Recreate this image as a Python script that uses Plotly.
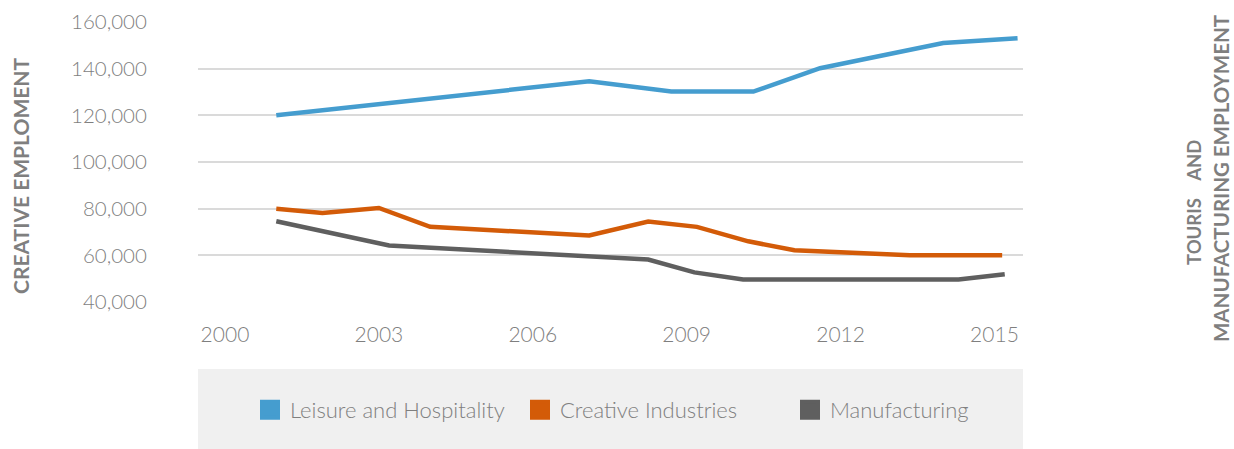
import plotly.graph_objects as go

# ---- data ----
leisure_x = [2001.0, 2007.1, 2008.7, 2010.3, 2011.6, 2014.0, 2015.45]
leisure_y = [120000, 134600, 130200, 130200, 140200, 151000, 153000]

creative_x = [2001.0, 2001.9, 2003.0, 2004.0, 2007.1, 2008.25, 2009.2, 2010.2, 2011.1, 2013.35, 2015.15]
creative_y = [80000, 78200, 80300, 72200, 68500, 74500, 72200, 66000, 62200, 60000, 60000]

manuf_x = [2001.0, 2003.2, 2008.25, 2009.15, 2010.1, 2014.3, 2015.2]
manuf_y = [74600, 64200, 58200, 52700, 49600, 49600, 51900]

series_names = ["Leisure and Hospitality", "Creative Industries", "Manufacturing"]
series_colors = ["#459dcf", "#d35b08", "#5f5f5f"]

x_ticks = [2000, 2003, 2006, 2009, 2012, 2015]
y_ticks = [40000, 60000, 80000, 100000, 120000, 140000, 160000]

left_title = "CREATIVE EMPLOMENT"
right_title_1 = "TOURIS\u00a0\u00a0\u00a0\u00a0AND"
right_title_2 = "MANUFACTURING EMPLOYMENT"

FONT = "Lato"
TXT = "#7f7f7f"

fig = go.Figure()
for xs, ys, name, col in [
    (leisure_x, leisure_y, series_names[0], series_colors[0]),
    (creative_x, creative_y, series_names[1], series_colors[1]),
    (manuf_x, manuf_y, series_names[2], series_colors[2]),
]:
    fig.add_trace(go.Scatter(x=xs, y=ys, mode="lines", name=name,
                             line=dict(color=col, width=4.5),
                             showlegend=False, hoverinfo="skip"))
# legend-only square swatches
for name, col in zip(series_names, series_colors):
    fig.add_trace(go.Scatter(x=[None], y=[None], mode="markers", name=name,
                             marker=dict(symbol="square", size=16, color=col,
                                         line=dict(color=col, width=4)),
                             showlegend=True))

W, H = 1234, 449
L, R, T, B = 198, 1023, 22, 302
pw, ph = R - L, B - T

def px(x):
    return (x - L) / pw

def py(y):
    return (B - y) / ph

fig.update_layout(
    width=W, height=H,
    margin=dict(l=L, r=W - R, t=T, b=H - B, pad=0, autoexpand=False),
    paper_bgcolor="white", plot_bgcolor="white",
    font=dict(family=FONT, color=TXT),
    xaxis=dict(range=[1999.474, 2015.556], tickvals=x_ticks,
               ticktext=[str(v) for v in x_ticks], automargin=False,
               showgrid=False, zeroline=False, showline=False,
               ticks="outside", ticklen=14, tickcolor="rgba(0,0,0,0)",
               tickfont=dict(family=FONT, size=21, color=TXT, weight=300)),
    yaxis=dict(range=[40000, 160000], tickvals=y_ticks, tickformat=",d",
               automargin=False,
               showgrid=True, gridcolor="#dadada", gridwidth=2.3,
               zeroline=False, showline=False,
               ticks="outside", ticklen=46, tickcolor="rgba(0,0,0,0)",
               tickfont=dict(family=FONT, size=20.5, color=TXT, weight=300)),
    legend=dict(orientation="h", x=px(250), y=py(410), xanchor="left", yanchor="middle",
                bgcolor="rgba(0,0,0,0)", entrywidth=225, entrywidthmode="pixels",
                font=dict(family=FONT, size=22, color=TXT, weight=300),
                itemclick=False, itemdoubleclick=False),
    shapes=[dict(type="rect", xref="paper", yref="paper",
                 x0=0, x1=1, y0=py(449), y1=py(369),
                 fillcolor="#f0f0f0", line=dict(width=0), layer="below")],
    annotations=[
        dict(text=left_title, xref="paper", yref="paper", x=px(20), y=py(176),
             textangle=-90, showarrow=False, xanchor="center", yanchor="middle",
             font=dict(family=FONT, size=21, color=TXT, weight="bold")),
        dict(text=right_title_1, xref="paper", yref="paper", x=px(1194), y=py(203),
             textangle=-90, showarrow=False, xanchor="center", yanchor="middle",
             font=dict(family=FONT, size=18.5, color=TXT, weight="bold")),
        dict(text=right_title_2, xref="paper", yref="paper", x=px(1221), y=py(179),
             textangle=-90, showarrow=False, xanchor="center", yanchor="middle",
             font=dict(family=FONT, size=20.5, color=TXT, weight="bold")),
    ],
)

fig.write_html("out.html")
